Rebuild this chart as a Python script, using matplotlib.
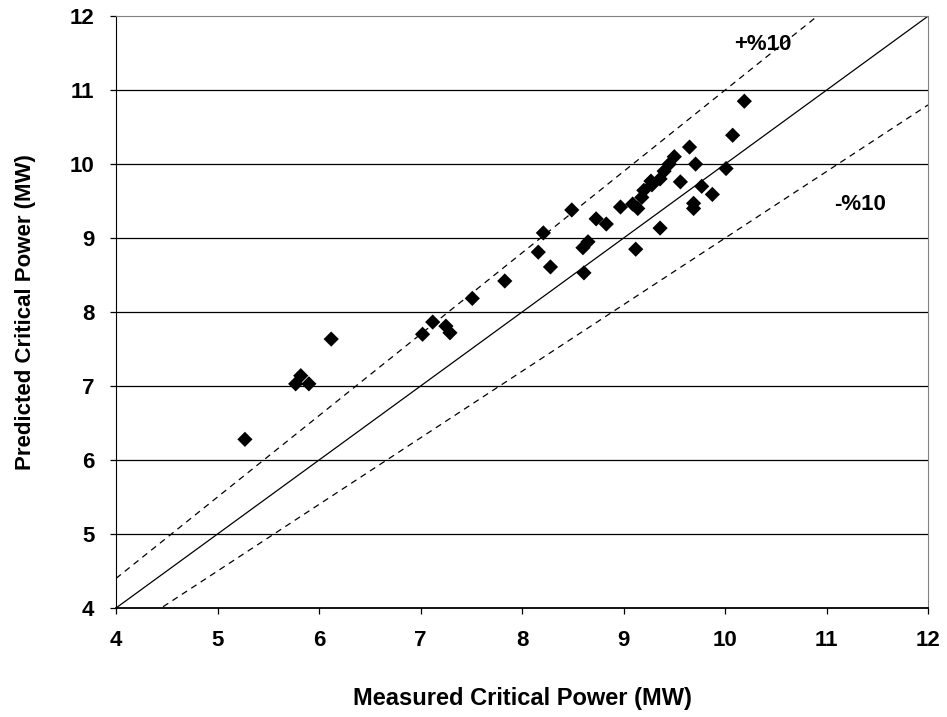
import matplotlib
matplotlib.use("Agg")
import matplotlib.pyplot as plt
import numpy as np

plt.rcParams["font.family"] = ["Liberation Sans", "DejaVu Sans"]
plt.rcParams["font.weight"] = "bold"

# measured vs predicted critical power (MW)
measured = [5.27, 5.77, 5.82, 5.90, 6.12, 7.02, 7.12, 7.25, 7.29, 7.51,
            7.83, 8.16, 8.21, 8.28, 8.49, 8.60, 8.61, 8.65, 8.73, 8.83,
            8.97, 9.09, 9.12, 9.14, 9.18, 9.20, 9.27, 9.28, 9.36, 9.36,
            9.40, 9.45, 9.50, 9.56, 9.65, 9.69, 9.69, 9.71, 9.77, 9.875,
            10.01, 10.075, 10.19]
predicted = [6.28, 7.03, 7.14, 7.03, 7.635, 7.70, 7.865, 7.81, 7.72, 8.185,
             8.42, 8.81, 9.07, 8.61, 9.38, 8.87, 8.53, 8.95, 9.26, 9.19,
             9.42, 9.46, 8.85, 9.40, 9.55, 9.645, 9.77, 9.72, 9.80, 9.135,
             9.905, 10.00, 10.10, 9.76, 10.23, 9.47, 9.40, 10.00, 9.70, 9.59,
             9.94, 10.39, 10.85]

ticks = [4, 5, 6, 7, 8, 9, 10, 11, 12]

fig = plt.figure(figsize=(9.47, 7.17), dpi=100)
ax = fig.add_axes([0.1225, 0.152, 0.8575, 0.8255])

ax.set_xlim(4, 12)
ax.set_ylim(4, 12)

# horizontal gridlines only
for t in ticks[1:-1]:
    ax.axhline(t, color="black", lw=0.9, zorder=1)

line_x = np.array([4.0, 12.0])
ax.plot(line_x, line_x, color="black", lw=0.9, zorder=2)
ax.plot(line_x, 1.1 * line_x, color="black", lw=0.9, ls=(0, (5, 4)), zorder=2)
ax.plot(line_x, 0.9 * line_x, color="black", lw=0.9, ls=(0, (5, 4)), zorder=2)

ax.scatter(measured, predicted, marker="D", s=60, color="black",
           edgecolor="none", zorder=3)

ax.text(10.37, 11.62, "+%10", fontsize=16, fontweight="bold",
        ha="center", va="center")
ax.text(11.33, 9.46, "-%10", fontsize=16, fontweight="bold",
        ha="center", va="center")

ax.set_xticks(ticks)
ax.set_yticks(ticks)
ax.tick_params(axis="x", direction="out", length=4.5, width=0.9,
               labelsize=16, pad=11.5)
ax.tick_params(axis="y", direction="out", length=4.5, width=0.9,
               labelsize=16, pad=11)
for lab in ax.get_xticklabels() + ax.get_yticklabels():
    lab.set_fontweight("bold")

ax.spines["left"].set_color("black")
ax.spines["bottom"].set_color("black")
ax.spines["bottom"].set_linewidth(1.3)
ax.spines["top"].set_color("#808080")
ax.spines["right"].set_color("#808080")

ax.set_xlabel("Measured Critical Power (MW)", fontsize=17, fontweight="bold",
              labelpad=26)
ax.set_ylabel("Predicted Critical Power (MW)", fontsize=16, fontweight="bold",
              labelpad=24)

fig.savefig("out.png", dpi=100)
